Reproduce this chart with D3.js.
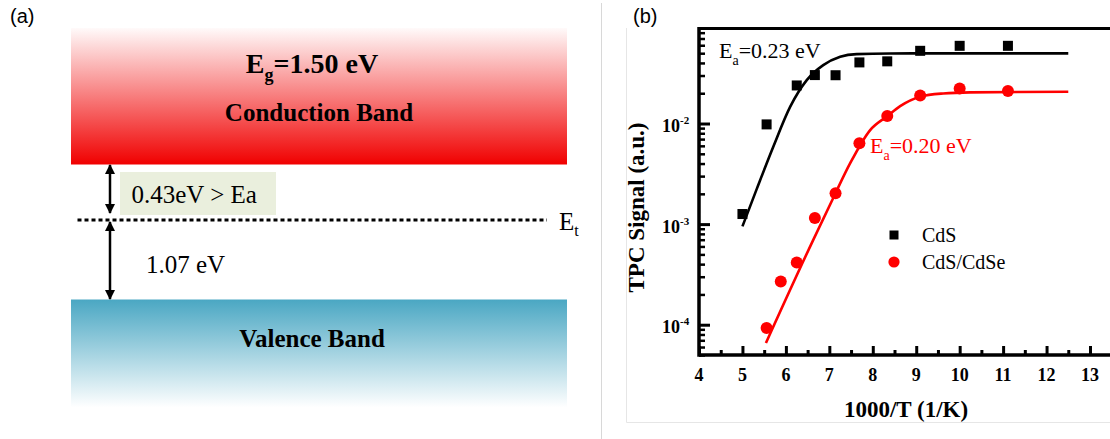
<!DOCTYPE html>
<html>
<head>
<meta charset="utf-8">
<script src="https://cdn.jsdelivr.net/npm/d3@7"></script>
<style>
  html, body { margin: 0; padding: 0; background: #fff; }
  svg { display: block; }
  .tl { font-family: 'Liberation Serif', 'Times New Roman', serif; font-weight: bold; font-size: 18px; fill: #000; }
</style>
</head>
<body>
<svg id="chart" width="1110" height="439"></svg>
<script>
// ---------------- DATA ----------------
// Panel (b): TPC signal vs 1000/T
const cdsInvT   = [5.000, 5.556, 6.250, 6.667, 7.143, 7.692, 8.333, 9.091, 10.000, 11.111];
const cdsSignal = [1.26e-3, 9.8e-3, 0.0239, 0.0303, 0.0302, 0.0405, 0.0415, 0.0528, 0.0592, 0.0592];

const cdseInvT   = [5.556, 5.882, 6.250, 6.667, 7.143, 7.692, 8.333, 9.091, 10.000, 11.111];
const cdseSignal = [9.27e-5, 2.69e-4, 4.15e-4, 1.15e-3, 2.03e-3, 6.36e-3, 0.0119, 0.0190, 0.0223, 0.0210];

// Fit curves
const cdsFitInvT   = [5.00, 5.33, 5.71, 6.10, 6.48, 6.86, 7.25, 7.63, 8.40, 9.50, 12.50];
const cdsFitSignal = [9.5e-4, 2.24e-3, 5.88e-3, 0.0147, 0.0270, 0.0381, 0.0461, 0.0490, 0.0497, 0.0498, 0.0498];

const cdseFitInvT   = [5.54, 6.63, 7.09, 7.48, 7.94, 8.34, 8.63, 9.09, 9.62, 10.24, 12.50];
const cdseFitSignal = [6.58e-5, 6.98e-4, 1.82e-3, 4.03e-3, 8.61e-3, 0.0119, 0.0149, 0.0185, 0.0199, 0.0204, 0.0207];

const xTickLabels = ["4", "5", "6", "7", "8", "9", "10", "11", "12", "13"];
const yMajorExponents = ["-4", "-3", "-2"];
const seriesNames = ["CdS", "CdS/CdSe"];
const seriesColors = ["#000000", "#ff0000"];
const fitLabels = ["=0.23 eV", "=0.20 eV"];

// Panel (a): band diagram labels
const bandGap = "=1.50 eV";
const trapToCB = "0.43eV > Ea";
const trapToVB = "1.07 eV";

// ---------------- DRAW ----------------
const svg = d3.select("#chart");
const serif = "'Liberation Serif', 'Times New Roman', serif";
const sans = "'Liberation Sans', Arial, sans-serif";

svg.append("rect").attr("width", 1110).attr("height", 439).attr("fill", "#fff");

// separators / frame
svg.append("line").attr("x1", 601.5).attr("x2", 601.5).attr("y1", 3).attr("y2", 439)
  .attr("stroke", "#d8d8d8").attr("stroke-width", 1);
svg.append("path").attr("d", "M626.5,28 V422.5 H1110")
  .attr("fill", "none").attr("stroke", "#e6e6e6").attr("stroke-width", 1);

// ---------- Panel (a) ----------
const defs = svg.append("defs");
const gCB = defs.append("linearGradient").attr("id", "cb").attr("x1", 0).attr("x2", 0).attr("y1", 0).attr("y2", 1);
gCB.append("stop").attr("offset", "0%").attr("stop-color", "#fffafa");
gCB.append("stop").attr("offset", "100%").attr("stop-color", "#f00000");
const gVB = defs.append("linearGradient").attr("id", "vb").attr("x1", 0).attr("x2", 0).attr("y1", 0).attr("y2", 1);
gVB.append("stop").attr("offset", "0%").attr("stop-color", "#4aa7c3");
gVB.append("stop").attr("offset", "100%").attr("stop-color", "#ffffff");

const mk = defs.append("marker").attr("id", "ah").attr("viewBox", "0 0 10 10")
  .attr("refX", 9).attr("refY", 5).attr("markerWidth", 4).attr("markerHeight", 4.2)
  .attr("orient", "auto-start-reverse").attr("markerUnits", "strokeWidth");
mk.append("path").attr("d", "M0,0 L10,5 L0,10 z").attr("fill", "#000");

const bandL = 71, bandR = 567;
svg.append("rect").attr("x", bandL).attr("y", 28).attr("width", bandR - bandL).attr("height", 136.5).attr("fill", "url(#cb)");
svg.append("rect").attr("x", bandL).attr("y", 299.5).attr("width", bandR - bandL).attr("height", 108).attr("fill", "url(#vb)");

svg.append("text").attr("x", 10).attr("y", 23).style("font-family", sans).style("font-size", "20px").text("(a)");

const eg = svg.append("text").attr("x", 312).attr("y", 72.5).attr("text-anchor", "middle")
  .style("font-family", serif).style("font-weight", "bold").style("font-size", "28px");
eg.append("tspan").text("E");
eg.append("tspan").style("font-size", "18px").attr("dy", 8).text("g");
eg.append("tspan").attr("dy", -8).text(bandGap);

svg.append("text").attr("x", 319).attr("y", 120.5).attr("text-anchor", "middle")
  .style("font-family", serif).style("font-weight", "bold").style("font-size", "25px").text("Conduction Band");
svg.append("text").attr("x", 312).attr("y", 346.5).attr("text-anchor", "middle")
  .style("font-family", serif).style("font-weight", "bold").style("font-size", "25px").text("Valence Band");

svg.append("rect").attr("x", 120).attr("y", 172).attr("width", 156).attr("height", 43).attr("fill", "#eaefdd");
svg.append("text").attr("x", 131.5).attr("y", 203.3).style("font-family", serif).style("font-size", "25px").text(trapToCB);
svg.append("text").attr("x", 146).attr("y", 273).style("font-family", serif).style("font-size", "25px").text(trapToVB);

svg.append("line").attr("x1", 77.5).attr("x2", 547).attr("y1", 220).attr("y2", 220)
  .attr("stroke", "#000").attr("stroke-width", 3).attr("stroke-dasharray", "4,3");
const et = svg.append("text").attr("x", 559).attr("y", 230).style("font-family", serif).style("font-size", "25px");
et.append("tspan").text("E");
et.append("tspan").style("font-size", "16px").attr("dy", 6).text("t");

svg.append("line").attr("x1", 110).attr("x2", 110).attr("y1", 165).attr("y2", 213)
  .attr("stroke", "#000").attr("stroke-width", 2.5)
  .attr("marker-start", "url(#ah)").attr("marker-end", "url(#ah)");
svg.append("line").attr("x1", 110).attr("x2", 110).attr("y1", 222).attr("y2", 299)
  .attr("stroke", "#000").attr("stroke-width", 2.5)
  .attr("marker-start", "url(#ah)").attr("marker-end", "url(#ah)");

// ---------- Panel (b) ----------
svg.append("text").attr("x", 633).attr("y", 23).style("font-family", sans).style("font-size", "20px").text("(b)");

const x = d3.scaleLinear().domain([4, 13]).range([699, 1090]);
const y = d3.scaleLog().domain([5e-5, 0.088]).range([355, 28.5]);
const xEnd = 1112;

// curves
const line = d3.line().x(d => x(d[0])).y(d => y(d[1])).curve(d3.curveMonotoneX);
const fits = [
  d3.zip(cdsFitInvT, cdsFitSignal),
  d3.zip(cdseFitInvT, cdseFitSignal)
];
fits.forEach((f, i) => {
  svg.append("path").attr("d", line(f)).attr("fill", "none")
    .attr("stroke", seriesColors[i]).attr("stroke-width", 2.6);
});

// markers
const sq = 10;
svg.append("g").selectAll("rect").data(d3.zip(cdsInvT, cdsSignal)).join("rect")
  .attr("x", d => x(d[0]) - sq / 2).attr("y", d => y(d[1]) - sq / 2)
  .attr("width", sq).attr("height", sq).attr("fill", seriesColors[0]);
svg.append("g").selectAll("circle").data(d3.zip(cdseInvT, cdseSignal)).join("circle")
  .attr("cx", d => x(d[0])).attr("cy", d => y(d[1])).attr("r", 6).attr("fill", seriesColors[1]);

// axes (ticks via d3 axes, inward)
const xMajor = xTickLabels.map(Number);
const xMinor = x.ticks(20).filter(v => !Number.isInteger(v)).concat([13.5]);
const gx = svg.append("g").attr("transform", `translate(0,${y.range()[0]})`);
gx.call(d3.axisBottom(x).tickValues(xMinor).tickSize(-5).tickSizeOuter(0).tickFormat(""));
gx.selectAll(".domain").remove();
gx.selectAll(".tick line").attr("stroke", "#000").attr("stroke-width", 3);
const gxM = svg.append("g").attr("transform", `translate(0,${y.range()[0]})`);
gxM.call(d3.axisBottom(x).tickValues(xMajor).tickSize(-9).tickSizeOuter(0).tickFormat(""));
gxM.selectAll(".domain").remove();
gxM.selectAll(".tick line").attr("stroke", "#000").attr("stroke-width", 3);

// x tick labels
svg.append("g").selectAll("text").data(xMajor).join("text")
  .attr("class", "tl").attr("x", d => x(d)).attr("y", 380.5).attr("text-anchor", "middle")
  .text((d, i) => xTickLabels[i]);

const yAll = y.ticks();
const isMajor = v => Math.abs(Math.log10(v) - Math.round(Math.log10(v))) < 1e-9;
const yMinor = yAll.filter(v => !isMajor(v));
const yMajor = yAll.filter(isMajor);
const gy = svg.append("g").attr("transform", `translate(${x.range()[0]},0)`);
gy.call(d3.axisLeft(y).tickValues(yMinor).tickSize(-6).tickSizeOuter(0).tickFormat(""));
gy.selectAll(".domain").remove();
gy.selectAll(".tick line").attr("stroke", "#000").attr("stroke-width", 2.5);
const gyM = svg.append("g").attr("transform", `translate(${x.range()[0]},0)`);
gyM.call(d3.axisLeft(y).tickValues(yMajor).tickSize(-11).tickSizeOuter(0).tickFormat(""));
gyM.selectAll(".domain").remove();
gyM.selectAll(".tick line").attr("stroke", "#000").attr("stroke-width", 3);

// y tick labels (10^n)
const yl = svg.append("g").selectAll("text").data(yMajor).join("text")
  .attr("class", "tl").attr("x", 662).attr("y", d => y(d) + 8.5).attr("text-anchor", "start");
yl.append("tspan").text("10");
yl.append("tspan").style("font-size", "11px").attr("dy", -8).text((d, i) => yMajorExponents[i]);

// axis lines (frame)
svg.append("line").attr("x1", x.range()[0]).attr("x2", xEnd).attr("y1", y.range()[0]).attr("y2", y.range()[0])
  .attr("stroke", "#000").attr("stroke-width", 3.5);
svg.append("line").attr("x1", x.range()[0]).attr("x2", xEnd).attr("y1", y.range()[1]).attr("y2", y.range()[1])
  .attr("stroke", "#000").attr("stroke-width", 3);
svg.append("line").attr("x1", x.range()[0]).attr("x2", x.range()[0]).attr("y1", y.range()[1] - 1.5).attr("y2", y.range()[0] + 1.75)
  .attr("stroke", "#000").attr("stroke-width", 3.5);

// axis titles
svg.append("text").attr("x", 906).attr("y", 417).attr("text-anchor", "middle")
  .style("font-family", serif).style("font-weight", "bold").style("font-size", "23px").text("1000/T (1/K)");
svg.append("text").attr("transform", "translate(644,207.5) rotate(-90)").attr("text-anchor", "middle")
  .style("font-family", serif).style("font-weight", "bold").style("font-size", "23px").text("TPC Signal (a.u.)");

// fit annotations
const ann = [
  { px: 719, py: 58 },
  { px: 870, py: 153.3 }
];
ann.forEach((a, i) => {
  const t = svg.append("text").attr("x", a.px).attr("y", a.py).style("font-family", serif)
    .style("font-size", "22px").attr("fill", seriesColors[i]);
  t.append("tspan").text("E");
  t.append("tspan").style("font-size", "14px").attr("dy", 7).text("a");
  t.append("tspan").attr("dy", -7).text(fitLabels[i]);
});

// legend
const lg = svg.append("g");
lg.append("rect").attr("x", 894 - 4.5).attr("y", 235 - 4.5).attr("width", 9).attr("height", 9).attr("fill", seriesColors[0]);
lg.append("circle").attr("cx", 894).attr("cy", 262).attr("r", 5.6).attr("fill", seriesColors[1]);
seriesNames.forEach((n, i) => {
  lg.append("text").attr("x", 922).attr("y", 242 + i * 27).style("font-family", serif)
    .style("font-size", "20px").attr("fill", "#000").text(n);
});
</script>
</body>
</html>
